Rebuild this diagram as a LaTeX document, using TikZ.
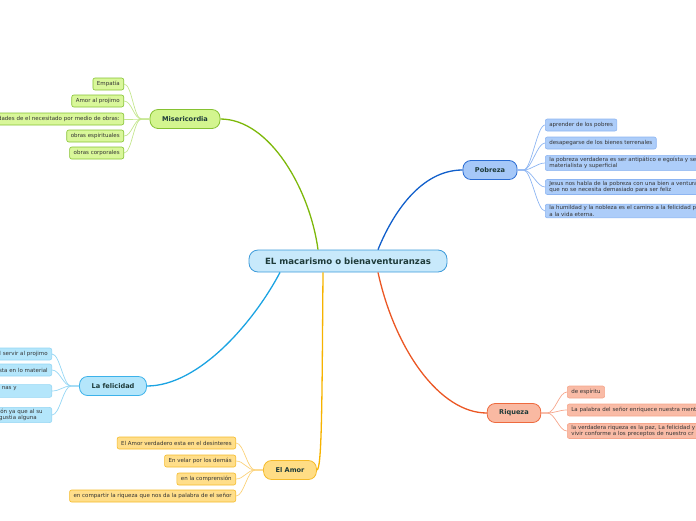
\documentclass[tikz,border=0pt]{standalone}
\usepackage{fontspec}
\setmainfont{DejaVu Sans}
\usetikzlibrary{positioning}
\definecolor{cenFill}{HTML}{C8E9FB}
\definecolor{cenDraw}{HTML}{3D9BDA}
\definecolor{topTxt}{HTML}{1E3B3A}
\definecolor{leafTxt}{HTML}{333333}
\definecolor{misLine}{HTML}{7DB80A}
\definecolor{misFill}{HTML}{D3F58F}
\definecolor{misDraw}{HTML}{86C232}
\definecolor{misLeaf}{HTML}{D9F79A}
\definecolor{misLink}{HTML}{C4E68E}
\definecolor{pobLine}{HTML}{115FCB}
\definecolor{pobFill}{HTML}{A6C8F8}
\definecolor{pobDraw}{HTML}{2A6CD3}
\definecolor{pobLeaf}{HTML}{ADCDF9}
\definecolor{pobLink}{HTML}{8DB5F2}
\definecolor{felLine}{HTML}{1BA3E2}
\definecolor{felFill}{HTML}{B4E6FB}
\definecolor{felDraw}{HTML}{3DB2EA}
\definecolor{felLeaf}{HTML}{B4E6FB}
\definecolor{felLink}{HTML}{94D6F4}
\definecolor{riqLine}{HTML}{EB5724}
\definecolor{riqFill}{HTML}{F9B9A2}
\definecolor{riqDraw}{HTML}{EE6A3E}
\definecolor{riqLeaf}{HTML}{F9BBA6}
\definecolor{riqLink}{HTML}{F6A68C}
\definecolor{amoLine}{HTML}{F6B300}
\definecolor{amoFill}{HTML}{FFDD85}
\definecolor{amoDraw}{HTML}{F5BB2A}
\definecolor{amoLeaf}{HTML}{FFDE8A}
\definecolor{amoLink}{HTML}{FBD27A}
\tikzset{
  central/.style={draw=cenDraw, fill=cenFill, line width=0.8pt, rounded corners=9pt,
    minimum width=198pt, minimum height=22pt, text=topTxt,
    font=\fontsize{8.6}{10}\selectfont\bfseries},
  topic/.style={line width=0.8pt, rounded corners=8pt, minimum height=19pt,
    inner xsep=12pt, text=topTxt, font=\fontsize{6.6}{8}\selectfont\bfseries},
  leaf/.style={line width=0.6pt, rounded corners=2pt, minimum height=12pt,
    inner xsep=4pt, inner ysep=1.5pt, text=leafTxt,
    font=\fontsize{5.5}{6.6}\selectfont},
  cutL/.style={leaf, text width=#1, align=right},
  cutR/.style={leaf, text width=#1, align=left},
  branch/.style={line width=1.3pt},
  twig/.style={line width=0.7pt},
}
\begin{document}
\begin{tikzpicture}[x=1pt, y=-1pt]
\useasboundingbox (0,0) rectangle (696,520);

% central idea
\node[central] (cen) at (348,261) {EL macarismo o bienaventuranzas};

% --- Misericordia ---
\node[topic, draw=misDraw, fill=misFill] (mis) at (185,119) {Misericordia};
\node[leaf, draw=misDraw, fill=misLeaf, anchor=east] (m1) at (124,84) {Empatía};
\node[leaf, draw=misDraw, fill=misLeaf, anchor=east] (m2) at (124,101) {Amor al projimo};
\node[cutL=150pt, draw=misDraw, fill=misLeaf, anchor=east] (m3) at (124,119) {dades de el necesitado por medio de obras:};
\node[leaf, draw=misDraw, fill=misLeaf, anchor=east] (m4) at (124,136) {obras espirituales};
\node[leaf, draw=misDraw, fill=misLeaf, anchor=east] (m5) at (124,153) {obras corporales};

% --- Pobreza ---
\node[topic, draw=pobDraw, fill=pobFill] (pob) at (490,170) {Pobreza};
\node[leaf, draw=pobLink, fill=pobLeaf, anchor=west] (p1) at (545,125) {aprender de los pobres};
\node[leaf, draw=pobLink, fill=pobLeaf, anchor=west] (p2) at (545,143) {desapegarse de los bienes terrenales};
\node[cutR=170pt, draw=pobLink, fill=pobLeaf, anchor=west] (p3) at (545,163)
  {la pobreza verdadera es ser antipático e egoísta y ser\\materialista y superficial};
\node[cutR=170pt, draw=pobLink, fill=pobLeaf, anchor=west] (p4) at (545,187)
  {Jesus nos habla de la pobreza con una bien a ventura\\que no se necesita demasiado para ser feliz};
\node[cutR=170pt, draw=pobLink, fill=pobLeaf, anchor=west] (p5) at (545,211)
  {la humildad y la nobleza es el camino a la felicidad p\\a la vida eterna.};

% --- La felicidad ---
\node[topic, draw=felDraw, fill=felFill] (fel) at (113,386) {La felicidad};
\node[cutL=80pt, draw=felLink, fill=felLeaf, anchor=east] (f1) at (52,354) {l servir al projimo};
\node[cutL=80pt, draw=felLink, fill=felLeaf, anchor=east] (f2) at (52,370) {sta en lo material};
\node[cutL=80pt, draw=felLink, fill=felLeaf, anchor=east] (f3) at (52,391) {nas y\hspace*{31pt}\mbox{}\\\mbox{}};
\node[cutL=80pt, draw=felLink, fill=felLeaf, anchor=east] (f4) at (52,415) {ón ya que al su\hspace*{5pt}\mbox{}\\gustia alguna\hspace*{11pt}\mbox{}};

% --- Riqueza ---
\node[topic, draw=riqDraw, fill=riqFill] (riq) at (514,413) {Riqueza};
\node[leaf, draw=riqLink, fill=riqLeaf, anchor=west] (r1) at (567,392) {de espíritu};
\node[cutR=160pt, draw=riqLink, fill=riqLeaf, anchor=west] (r2) at (567,410) {La palabra del señor enriquece nuestra ment};
\node[cutR=160pt, draw=riqLink, fill=riqLeaf, anchor=west] (r3) at (567,431)
  {la verdadera riqueza es la paz, La felicidad y\\vivir conforme a los preceptos de nuestro cr};

% --- El Amor ---
\node[topic, draw=amoDraw, fill=amoFill] (amo) at (290,470) {El Amor};
\node[leaf, draw=amoDraw, fill=amoLeaf, anchor=east] (a1) at (236,443) {El Amor verdadero esta en el desinteres};
\node[leaf, draw=amoDraw, fill=amoLeaf, anchor=east] (a2) at (236,461) {En velar por los demás};
\node[leaf, draw=amoDraw, fill=amoLeaf, anchor=east] (a3) at (236,479) {en la comprensión};
\node[leaf, draw=amoDraw, fill=amoLeaf, anchor=east] (a4) at (236,496) {en compartir la riqueza que nos da la palabra de el señor};

% main branches
\draw[branch, misLine] ([xshift=-30pt]cen.north) .. controls (310,190) and (270,119) .. (mis.east);
\draw[branch, pobLine] ([xshift=30pt]cen.north) .. controls (392,215) and (420,170) .. (pob.west);
\draw[branch, felLine] ([xshift=-68pt]cen.south) .. controls (255,320) and (200,386) .. (fel.east);
\draw[branch, amoLine] ([xshift=-25pt]cen.south) .. controls (322,400) and (322,470) .. (amo.east);
\draw[branch, riqLine] ([xshift=30pt]cen.south) .. controls (395,350) and (440,413) .. (riq.west);

% twigs
\foreach \n in {m1,m2,m3,m4,m5}
  \draw[twig, misLink] (mis.west) -- ++(-8,0) .. controls +(-8,0) and +(8,0) .. (\n.east);
\foreach \n in {p1,p2,p3,p4,p5}
  \draw[twig, pobLink] (pob.east) -- ++(6,0) .. controls +(8,0) and +(-8,0) .. (\n.west);
\foreach \n in {f1,f2,f3,f4}
  \draw[twig, felLink] (fel.west) -- ++(-8,0) .. controls +(-8,0) and +(8,0) .. (\n.east);
\foreach \n in {r1,r2,r3}
  \draw[twig, riqLink] (riq.east) -- ++(6,0) .. controls +(8,0) and +(-8,0) .. (\n.west);
\foreach \n in {a1,a2,a3,a4}
  \draw[twig, amoLink] (amo.west) -- ++(-8,0) .. controls +(-8,0) and +(8,0) .. (\n.east);

\end{tikzpicture}
\end{document}
